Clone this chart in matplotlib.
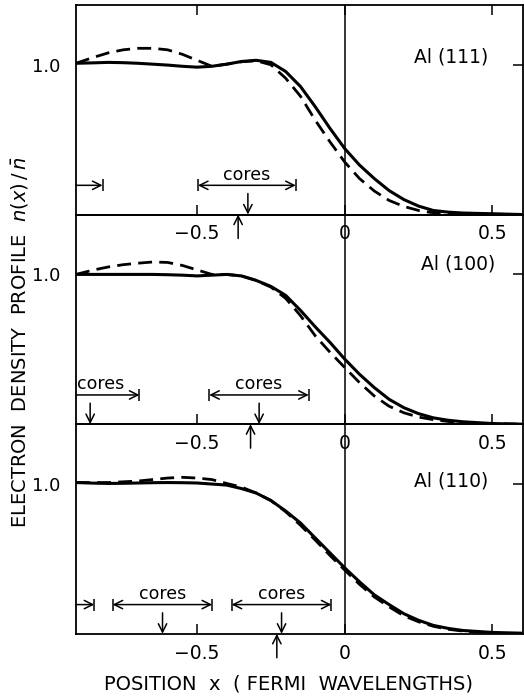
import numpy as np
import matplotlib.pyplot as plt

# positions (Fermi wavelengths) where the curves were read
x_pts = [-0.91, -0.85, -0.8, -0.75, -0.7, -0.65, -0.6, -0.55, -0.5, -0.45, -0.4, -0.35,
         -0.3, -0.25, -0.2, -0.15, -0.1, -0.05, 0.0, 0.05, 0.1, 0.15, 0.2, 0.25, 0.3,
         0.35, 0.4, 0.5, 0.6]

# Al(111)
solid_111 = [1.01, 1.013, 1.016, 1.014, 1.01, 1.004, 0.998, 0.99, 0.984, 0.99, 1.004, 1.022,
             1.03, 1.016, 0.955, 0.855, 0.72, 0.575, 0.44, 0.33, 0.24, 0.16, 0.10, 0.056, 0.027,
             0.016, 0.01, 0.005, 0.0]
dash_111 = [1.01, 1.05, 1.08, 1.10, 1.11, 1.11, 1.10, 1.07, 1.03, 0.99, 1.004, 1.02,
            1.027, 1.0, 0.91, 0.79, 0.63, 0.485, 0.35, 0.24, 0.157, 0.094, 0.054, 0.027, 0.011,
            0.006, 0.004, 0.002, 0.0]

# Al(100)
solid_100 = [1.0, 1.0, 1.0, 1.0, 1.0, 1.0, 0.998, 0.995, 0.99, 0.995, 1.0, 0.99,
             0.96, 0.92, 0.86, 0.76, 0.65, 0.546, 0.434, 0.333, 0.244, 0.166, 0.11, 0.07, 0.042,
             0.026, 0.016, 0.004, 0.0]
dash_100 = [1.0, 1.03, 1.05, 1.065, 1.075, 1.083, 1.08, 1.06, 1.03, 1.0, 1.0, 0.99,
            0.96, 0.915, 0.84, 0.725, 0.59, 0.48, 0.378, 0.277, 0.188, 0.12, 0.076, 0.047, 0.03,
            0.018, 0.01, 0.003, 0.0]

# Al(110)
solid_110 = [1.01, 1.006, 1.004, 1.005, 1.007, 1.009, 1.01, 1.009, 1.007, 1.0, 0.993, 0.97,
             0.94, 0.89, 0.82, 0.74, 0.64, 0.54, 0.44, 0.347, 0.26, 0.195, 0.134, 0.09, 0.056,
             0.036, 0.022, 0.009, 0.004]
dash_110 = [1.01, 1.01, 1.01, 1.015, 1.02, 1.03, 1.04, 1.045, 1.04, 1.03, 1.004, 0.98,
            0.94, 0.89, 0.815, 0.725, 0.626, 0.523, 0.425, 0.33, 0.246, 0.18, 0.12, 0.08, 0.05,
            0.03, 0.018, 0.004, 0.0]

labels = ["Al (111)", "Al (100)", "Al (110)"]
label_pos = [(0.36, 1.05), (0.385, 1.07), (0.36, 1.02)]
solids = [solid_111, solid_100, solid_110]
dashes = [dash_111, dash_100, dash_110]

# core regions: (start, end, centre arrow); start None -> from left edge
cores = [
    [(None, -0.82, None), (-0.497, -0.166, -0.328)],
    [(None, -0.695, -0.862), (-0.459, -0.122, -0.29)],
    [(None, -0.848, None), (-0.786, -0.449, -0.617), (-0.383, -0.045, -0.214)],
]
core_text = [[None, "cores"], ["cores", "cores"], [None, "cores", "cores"]]
up_arrows = [-0.361, -0.319, -0.23]

xmin, xmax = -0.91, 0.605

fig = plt.figure(figsize=(5.24, 6.98), dpi=100)
gs = fig.add_gridspec(3, 1, left=0.145, right=0.999, top=0.993, bottom=0.092, hspace=0)
ap = dict(arrowstyle='->,head_length=0.6,head_width=0.3', lw=1.1, color='k',
          shrinkA=0, shrinkB=0)

for i in range(3):
    ax = fig.add_subplot(gs[i])
    ax.patch.set_visible(False)
    ax.plot(x_pts, solids[i], color='k', lw=2.2, solid_capstyle='butt')
    ax.plot(x_pts, dashes[i], color='k', lw=2.0, dashes=(5, 2.6))
    ax.axvline(0, color='k', lw=1.1)
    ax.set_xlim(xmin, xmax)
    ax.set_ylim(0, 1.4)
    for s in ax.spines.values():
        s.set_linewidth(1.3)

    ax.set_xticks([-0.5, 0, 0.5])
    ax.set_xticklabels(["\u22120.5", "0", "0.5"])
    ax.tick_params(axis='x', direction='in', top=(i == 0), bottom=True, length=7.5,
                   width=1.1, labelsize=13.5, pad=7)
    ax.set_yticks([1.0])
    ax.set_yticklabels(["1.0"])
    ax.tick_params(axis='y', direction='in', left=False, right=True, length=7, width=1.1,
                   labelsize=13, pad=11)

    ax.text(label_pos[i][0], label_pos[i][1], labels[i], fontsize=13.5, ha='center', va='center')

    for (a, b, c), t in zip(cores[i], core_text[i]):
        y = 0.195
        if a is None:
            ax.annotate('', xy=(b, y), xytext=(xmin, y), arrowprops=ap)
            ax.plot([b], [y], marker='|', ms=8, mew=1.1, color='k')
            if t:
                ax.text(xmin + 0.005, 0.265, t, fontsize=12.5, ha='left', va='center')
        else:
            ap2 = dict(ap)
            ap2['arrowstyle'] = '<->,head_length=0.6,head_width=0.3'
            ax.annotate('', xy=(b, y), xytext=(a, y), arrowprops=ap2)
            ax.plot([a, b], [y, y], ls='none', marker='|', ms=8, mew=1.1, color='k')
            ax.text((a + b) / 2, 0.265, t, fontsize=12.5, ha='center', va='center')
        if c is not None:
            ax.annotate('', xy=(c, 0), xytext=(c, 0.14), arrowprops=ap)

    ax.annotate('', xy=(up_arrows[i], 0), xytext=(up_arrows[i], -0.16), arrowprops=ap,
                annotation_clip=False)

fig.text(20 / 524, 1 - 342 / 698,
         r"ELECTRON  DENSITY  PROFILE  $n(x)\,/\,\bar{n}$",
         rotation=90, fontsize=14, ha='center', va='center')
fig.text(288 / 524, 1 - 684 / 698, "POSITION  x  ( FERMI  WAVELENGTHS)",
         fontsize=14, ha='center', va='center')

fig.savefig("out.png", dpi=100)
